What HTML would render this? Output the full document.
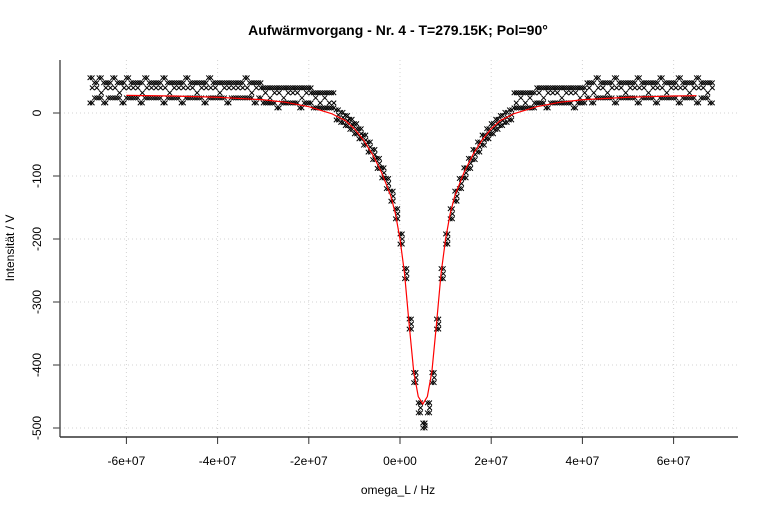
<!DOCTYPE html>
<html><head><meta charset="utf-8"><style>
body{margin:0;background:#fff}
svg{display:block;font-family:"Liberation Sans",sans-serif}
</style></head><body>
<svg id="c" width="768" height="512" xmlns="http://www.w3.org/2000/svg">
<text x="398" y="35" text-anchor="middle" font-size="14" font-weight="bold">Aufwärmvorgang - Nr. 4 - T=279.15K; Pol=90°</text>
<text x="398" y="494" text-anchor="middle" font-size="12">omega_L / Hz</text>
<text transform="translate(14,248) rotate(-90)" text-anchor="middle" font-size="12">Intensität / V</text>
<g id="grid"></g>
<g id="axes"></g>
<g id="pts"></g>
<g id="fit"></g>
</svg>
<script>
const xTicks=[-6e7,-4e7,-2e7,0,2e7,4e7,6e7];
const xTickLabels=["-6e+07","-4e+07","-2e+07","0e+00","2e+07","4e+07","6e+07"];
const yTicks=[0,-100,-200,-300,-400,-500];
const yTickLabels=["0","-100","-200","-300","-400","-500"];
// x in units of 1e6 Hz
const xs=[-68,-67,-66,-65,-64,-63,-62,-61,-60,-59,-58,-57,-56,-55,-54,-53,-52,-51,-50,-49,-48,-47,-46,-45,-44,-43,-42,-41,-40,-39,-38,-37,-36,-35,-34,-33,-32,-31,-30,-29,-28,-27,-26,-25,-24,-23,-22,-21,-20,-19,-18,-17,-16,-15,-14,-13,-12,-11,-10,-9,-8,-7,-6,-5,-4,-3,-2,-1,0,1,2,3,4,5,6,7,8,9,10,11,12,13,14,15,16,17,18,19,20,21,22,23,24,25,26,27,28,29,30,31,32,33,34,35,36,37,38,39,40,41,42,43,44,45,46,47,48,49,50,51,52,53,54,55,56,57,58,59,60,61,62,63,64,65,66,67,68];
const yA=[56,48,56,48,48,56,48,48,56,48,48,48,56,48,48,48,56,48,48,48,48,56,48,48,48,48,56,48,48,48,48,48,48,48,56,48,48,48,
40,40,40,40,40,40,40,40,40,40,40,
32,32,32,32,32,
5,1,-4,-10,-17,-25,-35,-46,-58,-72,-87,-104,-124,-152,-192,-247,-327,-412,-460,-492,
-460,-412,-327,-247,-192,-152,-124,-104,-87,-72,-58,-46,-35,-25,-17,-10,-4,1,5,
32,32,32,32,32,
40,40,40,40,40,40,40,40,40,40,40,
48,48,56,48,48,48,56,48,48,48,48,56,48,48,48,48,56,48,48,48,56,48,48,48,56,48,48,48];
const yB=[16,24,24,16,24,24,24,16,24,24,24,16,24,24,24,24,16,24,24,24,16,24,24,24,24,16,24,24,24,24,16,24,24,24,24,24,16,24,
16,16,16,8,16,16,16,16,8,16,16,
8,8,8,8,8,
-11,-15,-20,-26,-33,-41,-51,-62,-74,-88,-103,-120,-140,-168,-208,-263,-343,-428,-476,-500,
-476,-428,-343,-263,-208,-168,-140,-120,-103,-88,-74,-62,-51,-41,-33,-26,-20,-15,-11,
8,8,8,8,8,
16,16,8,16,16,16,16,16,8,16,16,
24,16,24,24,24,24,16,24,24,24,24,16,24,24,24,16,24,24,24,24,16,24,24,24,16,24,24,16];
const yC=[40,40,32,40,40,40,32,40,40,40,40,32,40,40,40,40,40,32,40,40,40,40,40,32,40,40,40,40,32,40,40,40,40,40,40,32,40,40,
32,24,32,32,24,32,32,32,24,32,32,
24,16,24,16,16,
-3,-7,-12,-18,-25,-33,-43,-54,-66,-80,-95,-112,-132,-160,-200,-255,-335,-420,-468,-496,
-468,-420,-335,-255,-200,-160,-132,-112,-95,-80,-66,-54,-43,-33,-25,-18,-12,-7,-3,
16,24,16,24,16,
32,24,32,32,32,24,32,32,32,24,32,
40,32,40,40,32,40,40,40,32,40,40,40,40,32,40,40,40,32,40,40,40,40,32,40,40,40,32,40];
const fitX=[-60,-50,-40,-30,-25,-20,-15,-12,-10,-8,-6,-4,-2,-1,0,1,2,3,4,5,6,7,8,9,10,11,12,14,16,18,20,22,25,30,35,40,50,60,65];
const fitY=[28,27,25,21,17,10,-1,-12,-25,-43,-66,-95,-132,-160,-200,-255,-335,-410,-450,-462,-450,-410,-335,-255,-200,-160,-132,-95,-66,-43,-25,-12,-1,10,17,21,25,27,27.5];

const NS="http://www.w3.org/2000/svg";
const X=v=>400+v/1e7*45.6;
const Y=v=>113-v*0.63;
function mk(t,a,p){const e=document.createElementNS(NS,t);for(const k in a)e.setAttribute(k,a[k]);p.appendChild(e);return e;}
const grid=document.getElementById('grid'),axes=document.getElementById('axes'),pts=document.getElementById('pts'),fit=document.getElementById('fit');
xTicks.forEach((t,i)=>{
 const g=mk('line',{x1:X(t),x2:X(t),y1:60,y2:437,stroke:'#d3d3d3','stroke-dasharray':'1,3'},grid);
 
 
 const tk=mk('line',{x1:X(t),x2:X(t),y1:437,y2:444,stroke:'#333'},axes);
 
 
 const l=mk('text',{x:X(t),y:465,'text-anchor':'middle','font-size':'12'},axes);
 l.textContent=xTickLabels[i];
 
 
});
yTicks.forEach((t,i)=>{
 const g=mk('line',{x1:60,x2:738,y1:Y(t),y2:Y(t),stroke:'#d3d3d3','stroke-dasharray':'1,3'},grid);
 
 
 const tk=mk('line',{x1:53,x2:60,y1:Y(t),y2:Y(t),stroke:'#333'},axes);
 
 
 const l=mk('text',{transform:`translate(41,${Y(t)}) rotate(-90)`,'text-anchor':'middle','font-size':'12'},axes);
 l.textContent=yTickLabels[i];
 
 
});
const la=mk('line',{x1:60,x2:60,y1:60,y2:437,stroke:'#555','stroke-width':1.5},axes);


const ba=mk('line',{x1:60,x2:738,y1:437,y2:437,stroke:'#333','stroke-width':1.5},axes);


function cross(x,y){
 const px=X(x*1e6),py=Y(y),s=2.3;
 const p=mk('path',{d:`M${px-s},${py-s}L${px+s},${py+s}M${px-s},${py+s}L${px+s},${py-s}`,stroke:'#000','stroke-width':1},pts);
 
 
}
xs.forEach((x,i)=>{
 cross(x,yA[i]);cross(x,yB[i]);cross(x+0.5,yC[i]);
 cross(x+0.5,yA[i]);cross(x+0.5,yB[i]);
});
const fp=mk('polyline',{points:fitX.map((x,i)=>X(x*1e6)+','+Y(fitY[i])).join(' '),fill:'none',stroke:'#ff0000','stroke-width':1.2},fit);


</script>
</body></html>
